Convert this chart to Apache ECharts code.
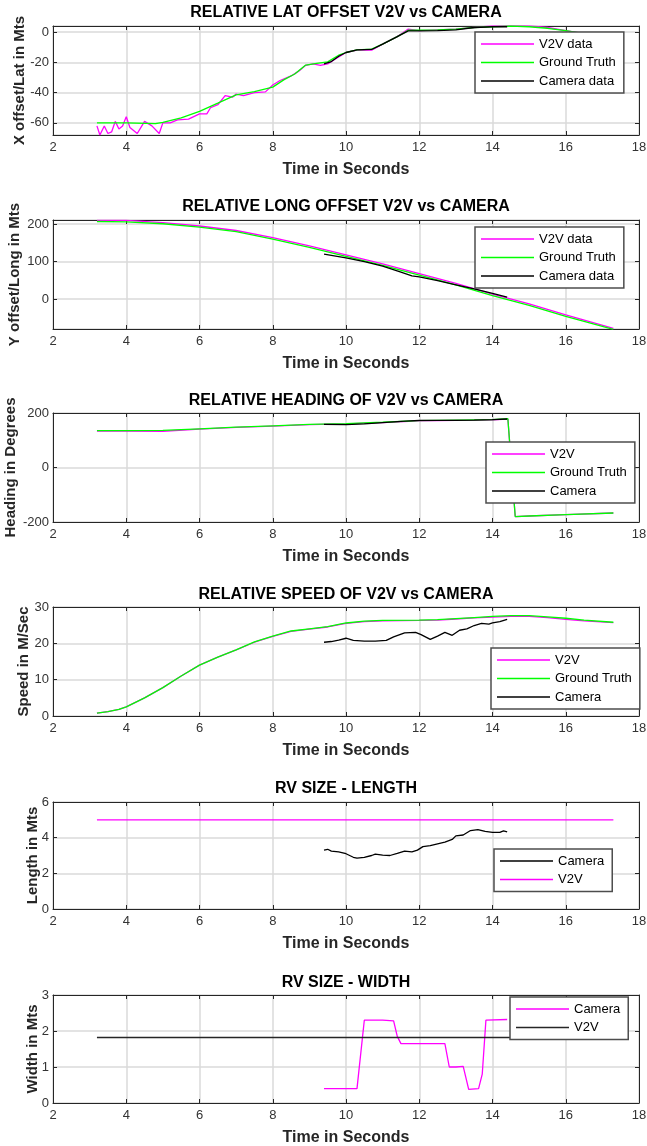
<!DOCTYPE html>
<html>
<head>
<meta charset="utf-8">
<title>V2V vs Camera</title>
<script src="https://cdn.jsdelivr.net/npm/echarts@6/dist/echarts.min.js"></script>
<style>
  body { margin: 0; background: #fff; }
  .panel { position: absolute; left: 0; width: 647px; }
</style>
</head>
<body>
<div id="p0" class="panel" style="top:0px;height:194px"></div>
<div id="p1" class="panel" style="top:194px;height:194px"></div>
<div id="p2" class="panel" style="top:388px;height:194px"></div>
<div id="p3" class="panel" style="top:582px;height:194px"></div>
<div id="p4" class="panel" style="top:776px;height:194px"></div>
<div id="p5" class="panel" style="top:970px;height:176px"></div>
<script>
// ---- data (time in seconds) ----
const xTicks = [2, 4, 6, 8, 10, 12, 14, 16, 18];

// relative lat offset
const latV2VTime = [3.2, 3.28, 3.4, 3.5, 3.6, 3.7, 3.8, 3.9, 4.0, 4.1, 4.3, 4.5, 4.7, 4.9, 5.0, 5.2, 5.4, 5.7, 6.0, 6.2, 6.3, 6.5, 6.7, 6.9, 7.0, 7.2, 7.5, 7.8, 8.0, 8.2, 8.5, 8.7, 8.9, 9.1, 9.3, 9.5, 9.7, 10.0, 10.3, 10.7, 11.0, 11.4, 11.7, 12.0, 12.5, 13.0, 13.5, 14.0, 14.5, 15.0, 15.5, 16.0, 16.5, 17.3];
const latV2V = [-62, -68, -62, -67, -66, -59, -64, -62, -56, -63, -67, -59, -62, -67, -60, -60, -58, -57.5, -54, -54, -50, -48, -42, -43, -41, -42, -40, -39.5, -35, -32, -29, -26, -22, -21, -22, -21, -18, -13.5, -12, -12, -8, -3, 2, 1, 1.5, 2, 3, 4, 4, 4, 3, 1, -1, -3];
const latTruthTime = [3.2, 4.0, 4.8, 5.0, 5.5, 6.0, 6.5, 7.0, 7.5, 8.0, 8.3, 8.6, 8.9, 9.2, 9.5, 9.8, 10.0, 10.3, 10.7, 11.0, 11.4, 11.7, 12.0, 12.5, 13.0, 13.5, 14.0, 14.5, 15.0, 15.5, 16.0, 16.5, 17.3];
const latTruth = [-60, -60, -60.5, -59.6, -56.7, -52.4, -47, -41.5, -39.3, -36.4, -31.6, -27.7, -21.8, -20.7, -19.7, -15.3, -13.5, -11.8, -11.3, -8, -3, 1.2, 1.2, 1.5, 2, 3, 3.5, 4, 3.5, 2.5, 1, -1, -3];
const latCamTime = [9.4, 9.6, 9.8, 10.0, 10.3, 10.7, 11.0, 11.4, 11.7, 12.0, 12.5, 13.0, 13.5, 14.0, 14.4];
const latCamera = [-21, -19.5, -16, -13.5, -11.8, -11.5, -8, -3, 0.8, 0.8, 1, 1.5, 3, 3.5, 3.5];

// relative long offset
const longTime = [3.2, 4, 5, 6, 7, 8, 9, 10, 11, 12, 13, 14, 15, 16, 17.3];
const longV2V = [210, 210, 204, 195, 183, 164, 142, 118, 94, 68, 42, 13, -13, -42, -78];
const longTruth = [207, 206, 201, 192, 180, 160, 138, 114, 90, 64, 38, 9, -17, -46, -81];
const longCamTime = [9.4, 10, 10.5, 11, 11.5, 11.8, 12, 12.5, 13, 13.5, 14, 14.4];
const longCamera = [120, 110, 100, 88, 72, 62, 59, 49, 38, 27, 15, 5];

// relative heading
const headTime = [3.2, 4, 5, 6, 7, 8, 9, 10, 11, 12, 13, 14, 14.42, 14.62, 15, 16, 17.3];
const headV2V = [134, 134, 133, 141, 147, 152, 157, 160, 165, 171, 173, 175, 178, -180, -178, -173, -167];
const headTruth = [135, 135, 136, 142, 148, 153, 158, 161, 166, 172, 174, 176, 179, -180, -178, -173, -167];
const headCamTime = [9.4, 10, 10.5, 11, 11.5, 12, 12.5, 13, 13.5, 14, 14.4];
const headCamera = [158, 157, 160, 165, 169, 173, 173, 173, 174, 176, 178];

// relative speed
const speedTime = [3.2, 3.5, 3.8, 4, 4.5, 5, 5.5, 6, 6.5, 7, 7.5, 8, 8.5, 9, 9.5, 10, 10.5, 11, 12, 12.5, 13, 13.5, 14, 14.5, 15, 15.5, 16, 16.5, 17.3];
const speedV2V = [0.8, 1.2, 1.8, 2.5, 5, 7.8, 11, 14, 16.2, 18.2, 20.3, 21.9, 23.3, 23.9, 24.5, 25.5, 26.0, 26.2, 26.3, 26.4, 26.7, 27.0, 27.2, 27.4, 27.4, 27.1, 26.6, 26.2, 25.7];
const speedTruth = [0.8, 1.2, 1.8, 2.5, 5, 7.8, 11, 14, 16.2, 18.2, 20.4, 22, 23.4, 24, 24.6, 25.6, 26.1, 26.3, 26.4, 26.5, 26.8, 27.1, 27.4, 27.6, 27.6, 27.3, 26.9, 26.4, 25.8];
const speedCamTime = [9.4, 9.6, 9.8, 10.0, 10.2, 10.5, 10.8, 11.1, 11.3, 11.6, 11.9, 12.05, 12.3, 12.5, 12.7, 12.9, 13.1, 13.3, 13.5, 13.7, 13.9, 14.0, 14.2, 14.4];
const speedCamera = [20.3, 20.5, 20.9, 21.4, 20.8, 20.6, 20.6, 20.8, 21.8, 22.9, 23.0, 22.4, 21.1, 22.0, 23.0, 22.2, 23.6, 24.0, 24.9, 25.5, 25.3, 25.6, 26.0, 26.6];

// RV length
const lenTime = [3.2, 17.3];
const lenV2V = [5, 5];
const lenCamTime = [9.4, 9.5, 9.6, 9.8, 10.0, 10.2, 10.3, 10.5, 10.7, 10.8, 11.0, 11.2, 11.4, 11.6, 11.8, 11.95, 12.1, 12.3, 12.5, 12.7, 12.9, 13.0, 13.2, 13.4, 13.6, 13.8, 14.0, 14.2, 14.3, 14.4];
const lenCamera = [3.3, 3.35, 3.25, 3.2, 3.1, 2.9, 2.85, 2.9, 3.0, 3.08, 3.02, 3.0, 3.12, 3.25, 3.2, 3.3, 3.5, 3.55, 3.65, 3.75, 3.9, 4.1, 4.15, 4.4, 4.45, 4.35, 4.3, 4.3, 4.38, 4.32];

// RV width
const widthTime = [3.2, 17.3];
const widthV2V = [1.82, 1.82];
const widthCamTime = [9.4, 10.3, 10.5, 11.0, 11.3, 11.4, 11.5, 12.7, 12.82, 13.0, 13.2, 13.35, 13.62, 13.72, 13.82, 14.4];
const widthCamera = [0.4, 0.4, 2.3, 2.3, 2.28, 1.85, 1.65, 1.65, 1.0, 1.0, 1.02, 0.38, 0.4, 0.8, 2.3, 2.32];

const MAGENTA = '#ff00ff';
const GREEN = '#00ff00';
const BLACK = '#000000';
const FONT = '"Liberation Sans", Arial, Helvetica, sans-serif';

function pairs(xs, ys) {
    return xs.map((x, i) => [x, ys[i]]);
}

function makePanel(id, cfg) {
    const chart = echarts.init(document.getElementById(id), null, { renderer: 'canvas' });
    const yBase = {
        type: 'value',
        min: cfg.yMin,
        max: cfg.yMax,
        minInterval: cfg.yStep,
        maxInterval: cfg.yStep,
        axisLine: { show: true, onZero: false, lineStyle: { color: '#262626', width: 1 } },
        axisTick: { show: true, inside: true, length: 4, lineStyle: { color: '#262626' } }
    };
    const xBase = {
        type: 'value',
        min: xTicks[0],
        max: xTicks[xTicks.length - 1],
        interval: 2,
        axisLine: { show: true, onZero: false, lineStyle: { color: '#262626', width: 1 } },
        axisTick: { show: true, inside: true, length: 4, lineStyle: { color: '#262626' } }
    };
    chart.setOption({
        animation: false,
        textStyle: { fontFamily: FONT },
        title: {
            text: cfg.title,
            left: 346,
            textAlign: 'center',
            top: 5,
            padding: 0,
            textStyle: { fontFamily: FONT, fontSize: 16, fontWeight: 'bold', color: '#000' }
        },
        grid: {
            left: 53, right: 8, top: cfg.gridTop, height: cfg.gridHeight,
            containLabel: false, outerBoundsMode: 'none'
        },
        legend: {
            orient: 'vertical',
            left: cfg.legendLeft,
            top: cfg.legendTop,
            backgroundColor: '#fff',
            borderColor: '#4d4d4d',
            borderWidth: 1.5,
            padding: [5, 8, 5, 6],
            icon: 'rect',
            itemWidth: 53,
            itemHeight: 1.5,
            itemGap: 4.5,
            textStyle: { fontFamily: FONT, fontSize: 13, lineHeight: 14, color: '#000' },
            data: cfg.series.map(s => s.name)
        },
        xAxis: [
            Object.assign({}, xBase, {
                position: 'bottom',
                name: 'Time in Seconds',
                nameLocation: 'middle',
                nameGap: 27,
                nameMoveOverlap: false,
                nameTextStyle: { fontFamily: FONT, fontSize: 16, fontWeight: 'bold', color: '#262626' },
                axisLabel: { fontFamily: FONT, fontSize: 13, color: '#333', margin: 6 },
                splitLine: { show: true, lineStyle: { color: '#dadada', width: 1.5 } }
            }),
            Object.assign({}, xBase, {
                position: 'top',
                axisLabel: { show: false },
                splitLine: { show: false }
            })
        ],
        yAxis: [
            Object.assign({}, yBase, {
                position: 'left',
                name: cfg.yName,
                nameLocation: 'middle',
                nameGap: cfg.yNameGap,
                nameMoveOverlap: false,
                nameTextStyle: { fontFamily: FONT, fontSize: 15, fontWeight: 'bold', color: '#262626' },
                axisLabel: {
                    fontFamily: FONT, fontSize: 13, color: '#333', margin: 4,
                    showMinLabel: cfg.showMin, showMaxLabel: cfg.showMax
                },
                splitLine: { show: true, lineStyle: { color: '#dadada', width: 1.5 } }
            }),
            Object.assign({}, yBase, {
                position: 'right',
                axisLabel: { show: false },
                splitLine: { show: false }
            })
        ],
        series: cfg.series.map(s => ({
            name: s.name,
            type: 'line',
            xAxisIndex: 0,
            yAxisIndex: 0,
            data: pairs(s.x, s.y),
            symbol: 'none',
            showSymbol: false,
            clip: true,
            color: s.color,
            lineStyle: { color: s.color, width: s.width || 1.3 }
        }))
    });
    window.addEventListener('resize', function () {
        chart.resize();
    });
}

makePanel('p0', {
    title: 'RELATIVE LAT OFFSET V2V vs CAMERA',
    yName: 'X offset/Lat in Mts', yNameGap: 26,
    yMin: -68, yMax: 4, yStep: 20, showMin: false, showMax: false,
    gridTop: 26, gridHeight: 109,
    legendLeft: 475, legendTop: 32,
    series: [
        { name: 'V2V data', x: latV2VTime, y: latV2V, color: MAGENTA },
        { name: 'Ground Truth', x: latTruthTime, y: latTruth, color: GREEN },
        { name: 'Camera data', x: latCamTime, y: latCamera, color: BLACK }
    ]
});

makePanel('p1', {
    title: 'RELATIVE LONG OFFSET V2V vs CAMERA',
    yName: 'Y offset/Long in Mts', yNameGap: 31,
    yMin: -80, yMax: 211, yStep: 100, showMin: false, showMax: false,
    gridTop: 26, gridHeight: 109,
    legendLeft: 475, legendTop: 33,
    series: [
        { name: 'V2V data', x: longTime, y: longV2V, color: MAGENTA },
        { name: 'Ground Truth', x: longTime, y: longTruth, color: GREEN },
        { name: 'Camera data', x: longCamTime, y: longCamera, color: BLACK }
    ]
});

makePanel('p2', {
    title: 'RELATIVE HEADING OF V2V vs CAMERA',
    yName: 'Heading in Degrees', yNameGap: 35,
    yMin: -200, yMax: 200, yStep: 200, showMin: true, showMax: true,
    gridTop: 25, gridHeight: 109,
    legendLeft: 486, legendTop: 54,
    series: [
        { name: 'V2V', x: headTime, y: headV2V, color: MAGENTA },
        { name: 'Ground Truth', x: headTime, y: headTruth, color: GREEN },
        { name: 'Camera', x: headCamTime, y: headCamera, color: BLACK }
    ]
});

makePanel('p3', {
    title: 'RELATIVE SPEED OF V2V vs CAMERA',
    yName: 'Speed in M/Sec', yNameGap: 22,
    yMin: 0, yMax: 30, yStep: 10, showMin: true, showMax: true,
    gridTop: 25, gridHeight: 109,
    legendLeft: 491, legendTop: 66,
    series: [
        { name: 'V2V', x: speedTime, y: speedV2V, color: MAGENTA },
        { name: 'Ground Truth', x: speedTime, y: speedTruth, color: GREEN },
        { name: 'Camera', x: speedCamTime, y: speedCamera, color: BLACK }
    ]
});

makePanel('p4', {
    title: 'RV SIZE - LENGTH',
    yName: 'Length in Mts', yNameGap: 13,
    yMin: 0, yMax: 6, yStep: 2, showMin: true, showMax: true,
    gridTop: 26, gridHeight: 107,
    legendLeft: 494, legendTop: 73,
    series: [
        { name: 'Camera', x: lenCamTime, y: lenCamera, color: BLACK },
        { name: 'V2V', x: lenTime, y: lenV2V, color: MAGENTA }
    ]
});

makePanel('p5', {
    title: 'RV SIZE - WIDTH',
    yName: 'Width in Mts', yNameGap: 13,
    yMin: 0, yMax: 3, yStep: 1, showMin: true, showMax: true,
    gridTop: 25, gridHeight: 108,
    legendLeft: 510, legendTop: 27,
    series: [
        { name: 'Camera', x: widthCamTime, y: widthCamera, color: MAGENTA },
        { name: 'V2V', x: widthTime, y: widthV2V, color: '#262626' }
    ]
});
</script>
</body>
</html>
